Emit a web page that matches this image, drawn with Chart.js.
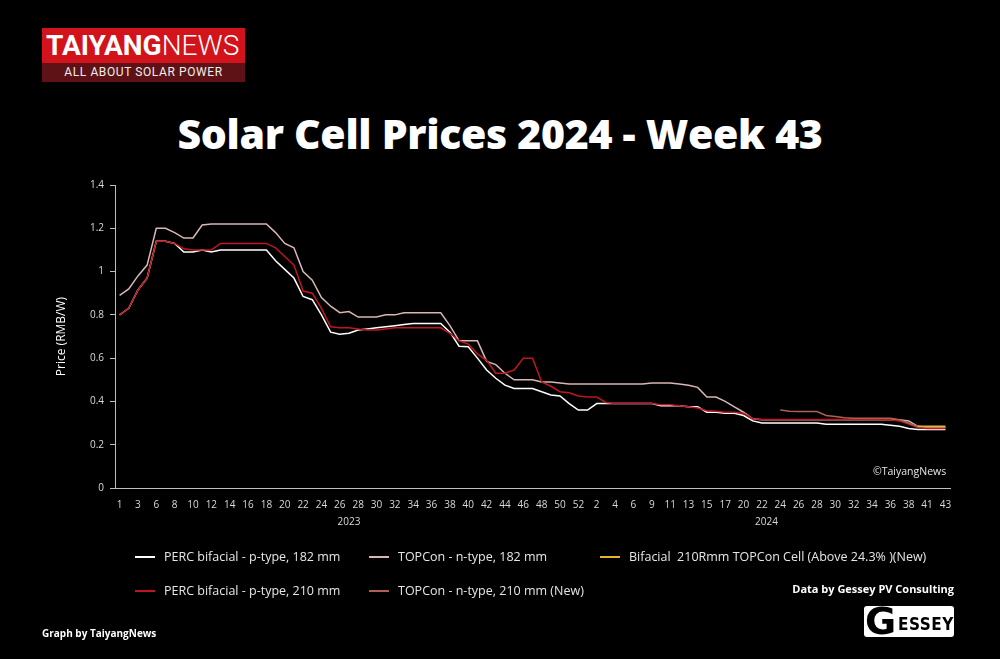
<!DOCTYPE html>
<html>
<head>
<meta charset="utf-8">
<script src="https://cdn.jsdelivr.net/npm/chart.js@4.4.1/dist/chart.umd.min.js"></script>
<style>
  html, body { margin: 0; padding: 0; background: #000; }
  body { width: 1000px; height: 659px; position: relative; overflow: hidden; font-family: "Open Sans", sans-serif; color: #fff; }
  #grafikHarga { position: absolute; left: 0; top: 0; }
  .logo { position: absolute; left: 42px; top: 28px; width: 203px; }
  .logo .atas { background: #d3131c; height: 35px; font: 28px/36px Roboto, sans-serif; color: #fff; padding-left: 4px; white-space: nowrap; }
  .logo .atas b { font-weight: 700; }
  .logo .atas span { font-weight: 300; }
  .logo .bawah { background: #5e1216; height: 19px; font: 12px/19px Roboto, sans-serif; color: #eee; text-align: center; letter-spacing: 0.6px; white-space: nowrap; }
  .judul { position: absolute; left: 0; width: 1000px; top: 107px; text-align: center; font: 800 41px/52px "Open Sans", sans-serif; letter-spacing: -0.3px; }
  .legenda { position: absolute; font-size: 12.5px; color: #e6e6e6; white-space: nowrap; }
  .legenda i { position: absolute; left: -29px; top: 8px; width: 20px; height: 2px; }
  .sumber { position: absolute; right: 46px; top: 581px; font: 700 11px "Open Sans", sans-serif; }
  .grafik-oleh { position: absolute; left: 42px; top: 626px; font: 700 10px "Open Sans", sans-serif; }
  .hak { position: absolute; left: 873px; top: 464px; font-size: 10.5px; color: #e6e6e6; }
  .gessey { position: absolute; left: 864px; top: 606px; width: 90px; height: 31px; background: #fff; border-radius: 3px; color: #000; }
  .gessey .g { position: absolute; left: 1px; top: -5px; font: 900 38px/40px "DejaVu Sans", sans-serif; }
  .gessey .s { position: absolute; left: 34px; top: 8px; font: 700 17px/20px "DejaVu Sans Condensed", "DejaVu Sans", sans-serif; letter-spacing: 0.5px; }
</style>
</head>
<body>
<div class="logo">
  <div class="atas"><b>TAIYANG</b><span>NEWS</span></div>
  <div class="bawah">ALL ABOUT SOLAR POWER</div>
</div>
<div class="judul">Solar Cell Prices 2024 - Week 43</div>
<canvas id="grafikHarga" width="1000" height="659"></canvas>
<div id="legenda"></div>
<div class="hak">©TaiyangNews</div>
<div class="sumber">Data by Gessey PV Consulting</div>
<div class="gessey"><span class="g">G</span><span class="s">ESSEY</span></div>
<div class="grafik-oleh">Graph by TaiyangNews</div>

<script>
// Minggu (kategori sumbu x), 2023 lalu 2024
const minggu2023 = [1, 2, 3, 5, 6, 7, 8, 9, 10, 11, 12, 13, 14, 15, 16, 17, 18, 19, 20, 21, 22, 23, 24, 25, 26,
  27, 28, 29, 30, 31, 32, 33, 34, 35, 36, 37, 38, 39, 40, 41, 42, 43, 44, 45, 46, 47, 48, 49, 50, 51, 52];
const minggu2024 = [1, 2, 3, 4, 5, 6, 8, 9, 10, 11, 12, 13, 14, 15, 16, 17, 19, 20, 21, 22, 23, 24, 25, 26, 27,
  28, 29, 30, 31, 32, 33, 34, 35, 36, 37, 38, 39, 41, 42, 43];
const tahunLabel = ['2023', '2024'];
const yTickLabel = ['0', '0.2', '0.4', '0.6', '0.8', '1', '1.2', '1.4'];

// Harga (RMB/W)
const perc182 = [
  0.80, 0.83, 0.915, 0.97, 1.14, 1.14, 1.13, 1.09, 1.09, 1.10,
  1.09, 1.10, 1.10, 1.10, 1.10, 1.10, 1.10, 1.05, 1.01, 0.97,
  0.885, 0.87, 0.80, 0.72, 0.71, 0.715, 0.73, 0.735, 0.74, 0.745,
  0.75, 0.755, 0.76, 0.76, 0.76, 0.76, 0.72, 0.655, 0.653, 0.60,
  0.545, 0.507, 0.475, 0.46, 0.46, 0.46, 0.445, 0.43, 0.425, 0.39,
  0.36, 0.36, 0.39, 0.39, 0.39, 0.39, 0.39, 0.39, 0.39, 0.38,
  0.38, 0.38, 0.375, 0.375, 0.35, 0.35, 0.345, 0.345, 0.335, 0.31,
  0.30, 0.30, 0.30, 0.30, 0.30, 0.30, 0.30, 0.295, 0.295, 0.295,
  0.295, 0.295, 0.295, 0.295, 0.29, 0.285, 0.275, 0.27, 0.27, 0.27,
  0.27];
const topcon182 = [
  0.89, 0.92, 0.98, 1.03, 1.20, 1.20, 1.18, 1.155, 1.155, 1.215,
  1.22, 1.22, 1.22, 1.22, 1.22, 1.22, 1.22, 1.18, 1.13, 1.11,
  1.00, 0.96, 0.88, 0.84, 0.81, 0.815, 0.79, 0.79, 0.79, 0.80,
  0.80, 0.81, 0.81, 0.81, 0.81, 0.81, 0.75, 0.68, 0.68, 0.68,
  0.585, 0.57, 0.53, 0.50, 0.50, 0.50, 0.49, 0.49, 0.485, 0.48,
  0.48, 0.48, 0.48, 0.48, 0.48, 0.48, 0.48, 0.48, 0.485, 0.485,
  0.485, 0.48, 0.475, 0.465, 0.42, 0.42, 0.40, 0.375, 0.35, 0.32,
  0.315, 0.315, 0.315, 0.315, 0.315, 0.315, 0.315, 0.315, 0.315, 0.315,
  0.315, 0.315, 0.315, 0.315, 0.315, 0.315, 0.31, 0.285, 0.28, 0.28,
  0.28];
const perc210 = [
  0.80, 0.83, 0.915, 0.97, 1.14, 1.14, 1.13, 1.105, 1.10, 1.10,
  1.10, 1.13, 1.13, 1.13, 1.13, 1.13, 1.13, 1.11, 1.07, 1.03,
  0.91, 0.90, 0.83, 0.745, 0.74, 0.74, 0.735, 0.73, 0.73, 0.735,
  0.74, 0.74, 0.74, 0.74, 0.74, 0.74, 0.715, 0.68, 0.665, 0.62,
  0.59, 0.53, 0.53, 0.545, 0.60, 0.60, 0.49, 0.47, 0.445, 0.44,
  0.425, 0.42, 0.42, 0.395, 0.39, 0.39, 0.39, 0.39, 0.39, 0.385,
  0.385, 0.38, 0.375, 0.37, 0.357, 0.355, 0.35, 0.35, 0.345, 0.32,
  0.317, 0.317, 0.317, 0.317, 0.317, 0.317, 0.317, 0.317, 0.317, 0.317,
  0.317, 0.317, 0.317, 0.317, 0.315, 0.31, 0.295, 0.28, 0.275, 0.275,
  0.275];
// Seri baru (mulai 2024)
const topcon210Minggu = [24, 25, 26, 27, 28, 29, 30, 31, 32, 33, 34, 35, 36, 37, 38, 39, 41, 42, 43];
const topcon210 = [0.36, 0.355, 0.353, 0.353, 0.353, 0.335, 0.33, 0.325, 0.322, 0.322,
  0.322, 0.322, 0.322, 0.315, 0.30, 0.283, 0.283, 0.283, 0.283];
const topcon210rMinggu = [39, 41, 42, 43];
const topcon210r = [0.285, 0.285, 0.285, 0.285];

const kategori = minggu2023.map(w => '2023-' + w).concat(minggu2024.map(w => '2024-' + w));
const titik2024 = (mingguArr, nilai) => mingguArr.map((w, i) => ({ x: '2024-' + w, y: nilai[i] }));

const seri = [
  { label: 'PERC bifacial - p-type, 182 mm', data: perc182, color: '#ffffff', order: 5 },
  { label: 'TOPCon - n-type, 182 mm', data: topcon182, color: '#d8b7b5', order: 4 },
  { label: 'Bifacial  210Rmm TOPCon Cell (Above 24.3% )(New)', data: titik2024(topcon210rMinggu, topcon210r), color: '#e8b22a', order: 1 },
  { label: 'PERC bifacial - p-type, 210 mm', data: perc210, color: '#c0161f', order: 3 },
  { label: 'TOPCon - n-type, 210 mm (New)', data: titik2024(topcon210Minggu, topcon210), color: '#a9644f', order: 2 }
];

// Legenda manual (3 kolom, 2 baris)
const posLegenda = [[164, 548], [398, 548], [629, 548], [164, 582], [398, 582]];
const wadah = document.getElementById('legenda');
seri.forEach((s, i) => {
  const el = document.createElement('div');
  el.className = 'legenda';
  el.style.left = posLegenda[i][0] + 'px';
  el.style.top = posLegenda[i][1] + 'px';
  el.innerHTML = '<i style="background:' + s.color + '"></i>' + s.label.replace(/  /g, ' &nbsp;');
  wadah.appendChild(el);
});

const labelTahun = {
  id: 'labelTahun',
  afterDraw(chart) {
    const sx = chart.scales.x;
    const ctx = chart.ctx;
    const tengah = [(minggu2023.length - 1) / 2, minggu2023.length + (minggu2024.length - 1) / 2];
    ctx.save();
    ctx.fillStyle = '#d9d9d9';
    ctx.font = '10px "Open Sans"';
    ctx.textAlign = 'center';
    ctx.textBaseline = 'middle';
    tahunLabel.forEach((t, i) => ctx.fillText(t, sx.getPixelForValue(tengah[i]), 522));
    ctx.restore();
  }
};

const ctx = document.getElementById('grafikHarga').getContext('2d');
new Chart(ctx, {
  type: 'line',
  data: {
    labels: kategori,
    datasets: seri.map(s => ({
      label: s.label,
      data: s.data,
      borderColor: s.color,
      backgroundColor: s.color,
      borderWidth: 1.5,
      pointRadius: 0,
      tension: 0,
      fill: false,
      order: s.order
    }))
  },
  options: {
    responsive: false,
    animation: false,
    layout: { padding: { left: 50, top: 185, right: 50, bottom: 131 } },
    plugins: {
      legend: { display: false },
      tooltip: { enabled: false }
    },
    scales: {
      x: {
        offset: true,
        afterFit(scale) { scale.height = 40; },
        grid: { display: false },
        border: { color: '#bfbfbf', width: 1 },
        ticks: {
          autoSkip: false,
          maxRotation: 0,
          padding: 3,
          color: '#d9d9d9',
          font: { size: 10, family: 'Open Sans' },
          callback: (v, i) => i % 2 === 0 ? kategori[i].split('-')[1] : null
        }
      },
      y: {
        min: 0,
        max: 1.4,
        afterFit(scale) { scale.width = 65; },
        grid: { drawOnChartArea: false, color: '#bfbfbf', tickLength: 5 },
        border: { color: '#bfbfbf', width: 1 },
        ticks: {
          stepSize: 0.2,
          padding: 6,
          color: '#d9d9d9',
          font: { size: 10, family: 'Open Sans' },
          callback: (v, i) => yTickLabel[i]
        },
        title: {
          display: true,
          text: 'Price (RMB/W)',
          color: '#ffffff',
          font: { size: 12, family: 'Open Sans' }
        }
      }
    }
  },
  plugins: [labelTahun]
});
</script>
</body>
</html>
